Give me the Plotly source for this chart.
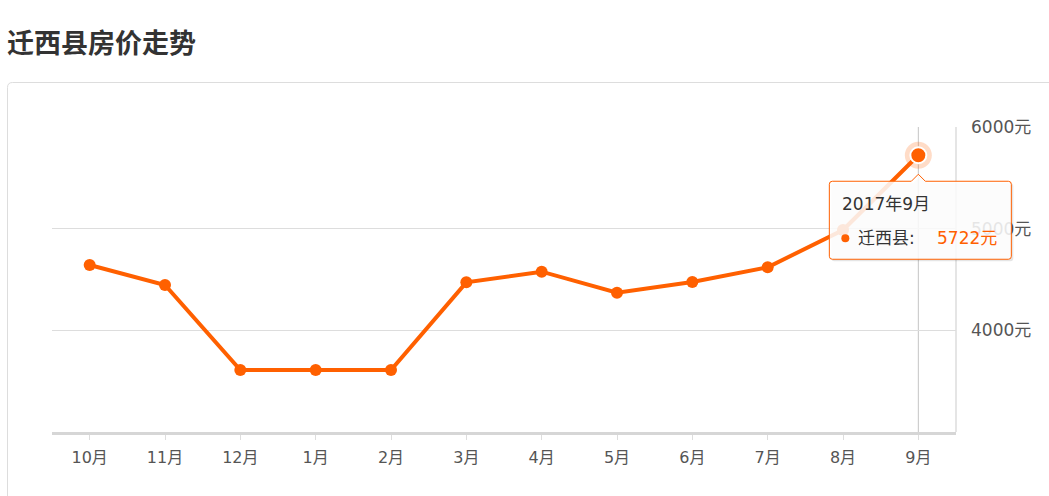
import plotly.graph_objects as go

# ---- data ----
months = ['10月', '11月', '12月', '1月', '2月', '3月', '4月', '5月', '6月', '7月', '8月', '9月']
prices = [4643, 4446, 3610, 3610, 3610, 4472, 4577, 4370, 4475, 4620, 4987, 5722]
y_ticks = [3000, 4000, 5000, 6000]
series_name = '迁西县'
tooltip_title = '2017年9月'
chart_title = '迁西县房价走势'

# ---- layout geometry (page pixels) ----
W, H = 1049, 496
L, R, T, B = 52, 956, 127, 432
ORANGE = '#ff6000'
CJK = 'DejaVu Sans, Noto Sans CJK SC, sans-serif'


def xp(px):
    return (px - L) / (R - L)


def yp(py):
    return (B - py) / (B - T)


ymin, ymax = 3000, 6000
hi = len(months) - 1
# pixel position of highlighted point
px_hi = L + (hi + 0.5) * (R - L) / len(months)
py_hi = B - (prices[hi] - ymin) / (ymax - ymin) * (B - T)

fig = go.Figure()
fig.add_trace(go.Scatter(
    x=months, y=prices, mode='lines+markers',
    line=dict(color=ORANGE, width=4),
    marker=dict(color=ORANGE, size=12),
    hoverinfo='skip', showlegend=False,
))
# highlighted last point (halo + point)
fig.add_trace(go.Scatter(
    x=[months[hi]], y=[prices[hi]], mode='markers',
    marker=dict(color='rgba(255,96,0,0.22)', size=27),
    hoverinfo='skip', showlegend=False,
))
fig.add_trace(go.Scatter(
    x=[months[hi]], y=[prices[hi]], mode='markers',
    marker=dict(color=ORANGE, size=16, line=dict(color='white', width=2)),
    hoverinfo='skip', showlegend=False,
))

shapes = []
r = 5
shapes.append(dict(
    type='path', xref='paper', yref='paper', layer='below',
    path=(f'M {xp(7.5)},{yp(520)} L {xp(7.5)},{yp(82.5 + r)} Q {xp(7.5)},{yp(82.5)} {xp(7.5 + r)},{yp(82.5)} '
          f'L {xp(1070)},{yp(82.5)}'),
    line=dict(color='#dddddd', width=1), fillcolor='rgba(0,0,0,0)',
))
# right border of plot
shapes.append(dict(type='line', xref='paper', yref='paper', x0=1, x1=1, y0=0, y1=1,
                   line=dict(color='#dddddd', width=1.5), layer='below'))
# crosshair
shapes.append(dict(type='line', xref='paper', yref='paper', x0=xp(px_hi), x1=xp(px_hi), y0=0, y1=1,
                   line=dict(color='#c4c4c4', width=1), layer='between'))

# tooltip box
tx0, tx1 = px_hi - 89, px_hi + 93
ty0, ty1 = py_hi + 26, py_hi + 104
ar = 3


def box_path(dx=0, dy=0):
    a0, a1, b0, b1 = tx0 + dx, tx1 + dx, ty0 + dy, ty1 + dy
    cx = px_hi + dx
    return (f'M {xp(a0 + ar)},{yp(b0)} L {xp(cx - 7)},{yp(b0)} L {xp(cx)},{yp(b0 - 7)} '
            f'L {xp(cx + 7)},{yp(b0)} L {xp(a1 - ar)},{yp(b0)} Q {xp(a1)},{yp(b0)} {xp(a1)},{yp(b0 + ar)} '
            f'L {xp(a1)},{yp(b1 - ar)} Q {xp(a1)},{yp(b1)} {xp(a1 - ar)},{yp(b1)} '
            f'L {xp(a0 + ar)},{yp(b1)} Q {xp(a0)},{yp(b1)} {xp(a0)},{yp(b1 - ar)} '
            f'L {xp(a0)},{yp(b0 + ar)} Q {xp(a0)},{yp(b0)} {xp(a0 + ar)},{yp(b0)} Z')


shapes.append(dict(type='path', xref='paper', yref='paper', layer='above',
                   path=box_path(2, 2), fillcolor='rgba(0,0,0,0.10)', line=dict(width=0)))
shapes.append(dict(type='path', xref='paper', yref='paper', layer='above',
                   path=box_path(), fillcolor='rgba(255,255,255,0.86)',
                   line=dict(color=ORANGE, width=1)))
# tooltip dot
shapes.append(dict(type='circle', xref='paper', yref='paper', layer='above',
                   x0=xp(tx0 + 12), x1=xp(tx0 + 20), y0=yp(ty0 + 53), y1=yp(ty0 + 61),
                   fillcolor=ORANGE, line=dict(width=0)))

annotations = [
    dict(text=f'<b>{chart_title}</b>', xref='paper', yref='paper', x=xp(5), y=yp(42),
         xanchor='left', yanchor='middle', showarrow=False,
         font=dict(family='Noto Sans CJK SC', size=27, color='#333333')),
    dict(text=tooltip_title, xref='paper', yref='paper', x=xp(tx0 + 11), y=yp(ty0 + 23),
         xanchor='left', yanchor='middle', showarrow=False,
         font=dict(family=CJK, size=17, color='#333333')),
    dict(text=series_name + ':', xref='paper', yref='paper', x=xp(tx0 + 27), y=yp(ty0 + 57),
         xanchor='left', yanchor='middle', showarrow=False,
         font=dict(family=CJK, size=17, color='#333333')),
    dict(text=f'{prices[hi]}元', xref='paper', yref='paper', x=xp(tx0 + 106), y=yp(ty0 + 57),
         xanchor='left', yanchor='middle', showarrow=False,
         font=dict(family=CJK, size=17, color=ORANGE)),
]

fig.update_layout(
    width=W, height=H,
    margin=dict(l=L, r=W - R, t=T, b=H - B, pad=0),
    paper_bgcolor='white', plot_bgcolor='white',
    shapes=shapes, annotations=annotations,
    xaxis=dict(
        type='category', categoryorder='array', categoryarray=months,
        range=[-0.5, len(months) - 0.5],
        showgrid=False, zeroline=False,
        showline=True, linecolor='#d6d6d6', linewidth=3,
        ticks='outside', ticklen=5, tickcolor='#dddddd', tickwidth=1,
        tickfont=dict(family=CJK, size=16, color='#555555'),
        ticklabelstandoff=4,
    ),
    yaxis=dict(
        range=[ymin, ymax], tickvals=y_ticks,
        ticktext=['' if v == ymin else f'{v}元' for v in y_ticks],
        side='right', showgrid=True, gridcolor='#dddddd', gridwidth=1,
        zeroline=False, showline=False, ticks='',
        tickfont=dict(family=CJK, size=17, color='#555555'),
        ticklabelstandoff=14,
    ),
)

fig.write_html('out.html', config={'displayModeBar': False},
               post_script="document.body.style.margin='0';")
